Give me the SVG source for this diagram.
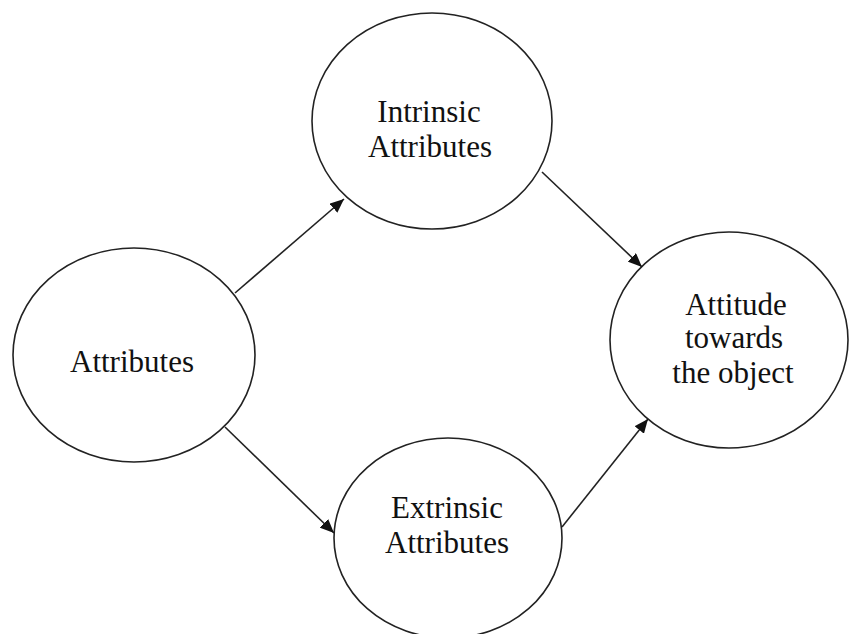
<svg xmlns="http://www.w3.org/2000/svg" width="849" height="634" viewBox="0 0 849 634">
<defs>
<style>
.node ellipse{fill:#fff;stroke:#222;stroke-width:1.6}
.node text{font-family:"Liberation Serif","Times New Roman",serif;font-size:31px;fill:#111;text-anchor:middle}
.edges line{stroke:#222;stroke-width:1.6;marker-end:url(#ah)}
</style>
<marker id="ah" viewBox="0 0 14 12" refX="14" refY="6" markerWidth="14" markerHeight="12" markerUnits="userSpaceOnUse" orient="auto">
<path d="M0,0 L14,6 L0,12 Z" fill="#111"/>
</marker>
</defs>
<rect width="849" height="634" fill="#fff"/>
<g id="n-attributes" class="node">
<ellipse cx="134" cy="355" rx="121" ry="107"/>
<text x="132" y="372">Attributes</text>
</g>
<g id="n-intrinsic" class="node">
<ellipse cx="432" cy="121" rx="120" ry="108"/>
<text x="429" y="122">Intrinsic</text>
<text x="430" y="157">Attributes</text>
</g>
<g id="n-extrinsic" class="node">
<ellipse cx="448" cy="538" rx="114" ry="100"/>
<text x="447" y="518">Extrinsic</text>
<text x="447" y="553">Attributes</text>
</g>
<g id="n-attitude" class="node">
<ellipse cx="729" cy="340" rx="119" ry="108"/>
<text x="736" y="315">Attitude</text>
<text x="734" y="348">towards</text>
<text x="733" y="383">the object</text>
</g>
<g id="edges" class="edges">
<line x1="235" y1="293" x2="344" y2="199"/>
<line x1="542" y1="172" x2="642" y2="267"/>
<line x1="225" y1="427" x2="334" y2="533"/>
<line x1="562" y1="527" x2="648" y2="419"/>
</g>
</svg>
